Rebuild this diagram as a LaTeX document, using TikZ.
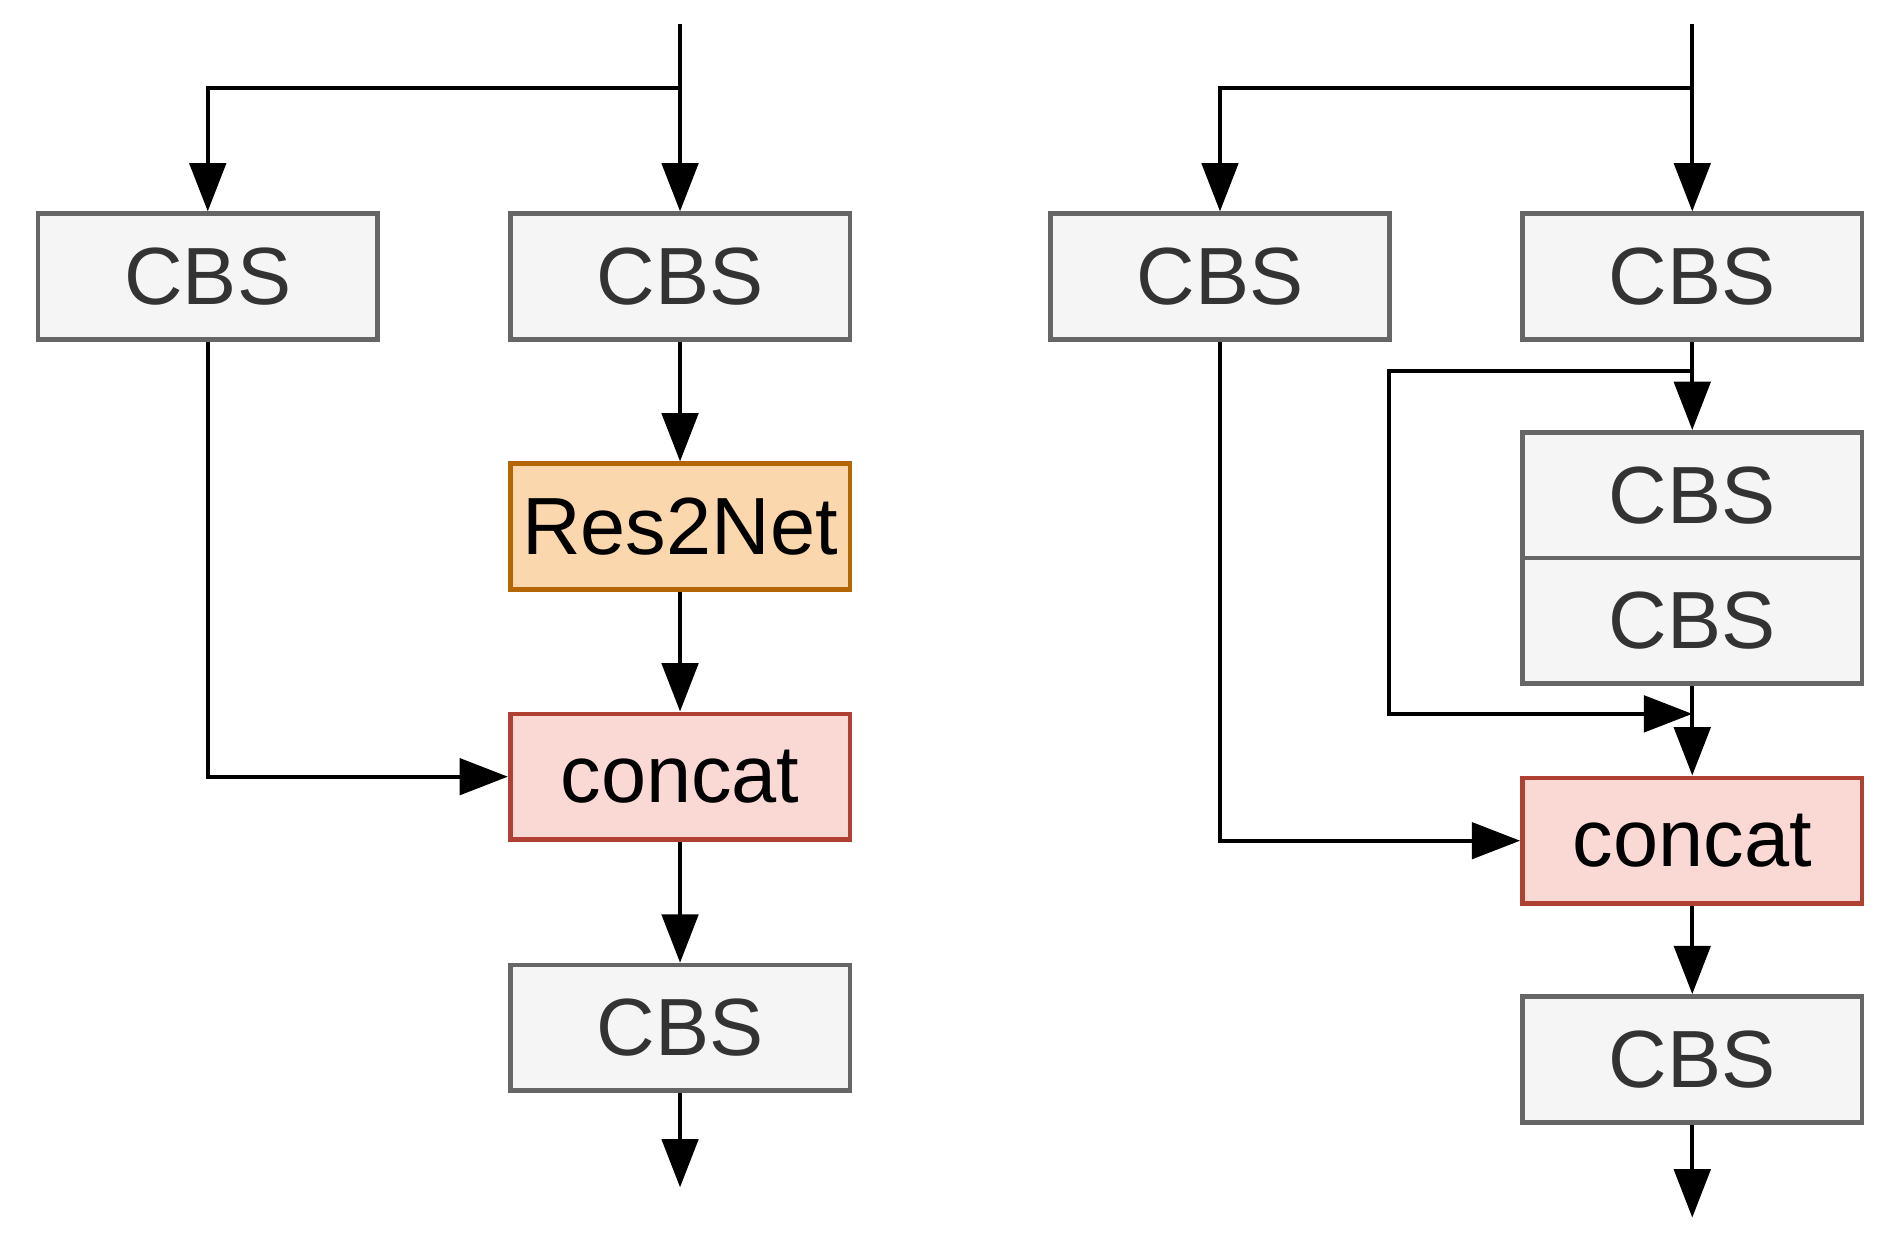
\documentclass[tikz,border=0pt]{standalone}
\usepackage{fontspec}
\setmainfont{Liberation Sans}
\usetikzlibrary{arrows.meta}
\definecolor{grayfill}{HTML}{F5F5F5}
\definecolor{graydraw}{HTML}{666666}
\definecolor{orgfill}{HTML}{FAD7AC}
\definecolor{orgdraw}{HTML}{B46504}
\definecolor{redfill}{HTML}{FAD9D5}
\definecolor{reddraw}{HTML}{AE4132}
\begin{document}
\begin{tikzpicture}[x=0.01cm,y=-0.01cm,
  box/.style={draw=graydraw,fill=grayfill,line width=1.1pt,minimum width=2.81cm,minimum height=1.04cm,inner sep=0pt,font=\fontsize{19.1}{23}\selectfont,text=black!80},
  res/.style={box,draw=orgdraw,fill=orgfill,text=black},
  cat/.style={box,draw=reddraw,fill=redfill,text=black},
  arr/.style={line width=1pt,-{Triangle[length=4mm,width=3mm]}},
  ln/.style={line width=1pt}]
\useasboundingbox (0,0) rectangle (1568,1027);
% left block
\coordinate (inA) at (563,20);
\coordinate (brA) at (563,73);
\coordinate (brA2) at (172,73);
\node[box] (cbsA1) at (172,229) {CBS};
\node[box] (cbsA2) at (563,229) {CBS};
\node[res] (resA) at (563,436) {Res2Net};
\node[cat] (catA) at (563,643) {concat};
\node[box] (cbsA3) at (563,851) {CBS};
\coordinate (outA) at (563,983);
\draw[arr] (inA) -- (cbsA2);
\draw[arr] (brA) -- (brA2) -- (cbsA1);
\draw[arr] (cbsA2) -- (resA);
\draw[arr] (resA) -- (catA);
\draw[arr] (cbsA1) |- (catA);
\draw[arr] (catA) -- (cbsA3);
\draw[arr] (cbsA3) -- (outA);
% right block
\coordinate (inB) at (1401,20);
\coordinate (brB) at (1401,73);
\coordinate (brB2) at (1010,73);
\node[box] (cbsB1) at (1010,229) {CBS};
\node[box] (cbsB2) at (1401,229) {CBS};
\node[box] (cbsB3) at (1401,410) {CBS};
\node[box] (cbsB4) at (1401,514) {CBS};
\node[cat] (catB) at (1401,696) {concat};
\node[box] (cbsB5) at (1401,877) {CBS};
\coordinate (outB) at (1401,1008);
\coordinate (skB) at (1401,307);
\coordinate (skB2) at (1150,307);
\coordinate (skB3) at (1150,591);
\coordinate (skB4) at (1401,591);
\draw[arr] (inB) -- (cbsB2);
\draw[arr] (brB) -- (brB2) -- (cbsB1);
\draw[arr] (cbsB2) -- (cbsB3);
\draw[arr] (skB) -- (skB2) -- (skB3) -- (skB4);
\draw[arr] (cbsB4) -- (catB);
\draw[arr] (cbsB1) |- (catB);
\draw[arr] (catB) -- (cbsB5);
\draw[arr] (cbsB5) -- (outB);
\end{tikzpicture}
\end{document}
